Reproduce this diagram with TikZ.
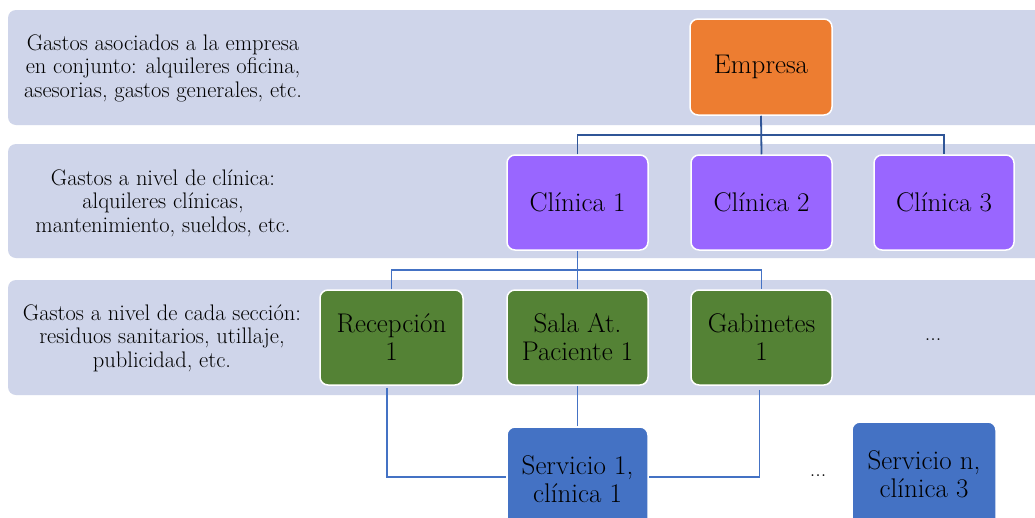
\documentclass[tikz,border=0pt]{standalone}
\usepackage{fontspec}
\definecolor{bandc}{HTML}{CFD5EA}
\definecolor{orangec}{HTML}{ED7D31}
\definecolor{purplec}{HTML}{9966FF}
\definecolor{greenc}{HTML}{548235}
\definecolor{bluec}{HTML}{4472C4}
\definecolor{darklink}{HTML}{2F5597}
\definecolor{lightlink}{HTML}{4472C4}
\tikzset{
  band/.style={fill=bandc, rounded corners=8pt},
  sidetext/.style={align=center, font=\fontsize{22.5}{23.5}\selectfont, text=black},
  orgbox/.style={rounded corners=8pt, draw=white, line width=1.5pt, align=center,
    font=\fontsize{27}{28}\selectfont, text=black, inner sep=2pt},
  dk/.style={draw=darklink, line width=1.8pt},
  lt/.style={draw=lightlink, line width=1.8pt},
  dotstext/.style={font=\fontsize{22}{22}\selectfont, text=black}
}
\begin{document}
\begin{tikzpicture}[x=1pt,y=-1pt]
\useasboundingbox (0,0) rectangle (1035,517);
\fill[white] (0,0) rectangle (1035,517);
% bands
\fill[band] (8,10) rectangle (1050,125);
\fill[band] (8,144) rectangle (1050,258);
\fill[band] (8,280) rectangle (1050,395);
% side texts
\node[sidetext] (t1) at (163,68) {Gastos asociados a la empresa\\en conjunto: alquileres oficina,\\asesorias, gastos generales, etc.};
\node[sidetext] (t2) at (163,203) {Gastos a nivel de clínica:\\alquileres clínicas,\\mantenimiento, sueldos, etc.};
\node[sidetext] (t3) at (162,338) {Gastos a nivel de cada sección:\\residuos sanitarios, utillaje,\\publicidad, etc.};
\coordinate (j1) at (761,135);
\coordinate (j2) at (577.5,270);
% boxes
\node[orgbox, fill=orangec, minimum width=142pt, minimum height=96pt] (emp) at (761,67) {Empresa};
\node[orgbox, fill=purplec, minimum width=141pt, minimum height=95pt] (c1) at (577.5,202.5) {Clínica 1};
\node[orgbox, fill=purplec, minimum width=141pt, minimum height=95pt] (c2) at (761.5,202.5) {Clínica 2};
\node[orgbox, fill=purplec, minimum width=140pt, minimum height=95pt] (c3) at (944,202.5) {Clínica 3};
\node[orgbox, fill=greenc, minimum width=143pt, minimum height=95pt] (rec) at (391.5,337.5) {Recepción\\1};
\node[orgbox, fill=greenc, minimum width=141pt, minimum height=95pt] (sala) at (577.5,337.5) {Sala At.\\Paciente 1};
\node[orgbox, fill=greenc, minimum width=141pt, minimum height=95pt] (gab) at (761.5,337.5) {Gabinetes\\1};
\node[dotstext] (d1) at (933,340) {...};
\node[orgbox, fill=bluec, minimum width=141pt, minimum height=104pt] (s1) at (577.5,479) {Servicio 1,\\clínica 1};
\node[orgbox, fill=bluec, minimum width=144pt, minimum height=104pt] (sn) at (924,474) {Servicio n,\\clínica 3};
\node[dotstext] (d2) at (818,476) {...};
% links
\draw[dk] (emp.south) -- (c2.north);
\draw[dk] (c1.north) -- (c1.north |- j1) -- (c3.north |- j1) -- (c3.north);
\draw[lt] (c1.south) -- (sala.north);
\draw[lt] (rec.north) -- (rec.north |- j2) -- (gab.north |- j2) -- (gab.north);
\draw[lt] (sala.south) -- (s1.north);
\draw[lt] ([xshift=-4.5pt,yshift=-2pt]rec.south) |- ([yshift=2pt]s1.west);
\draw[lt] ([xshift=-2pt,yshift=-4pt]gab.south) |- ([yshift=2pt]s1.east);
\end{tikzpicture}
\end{document}
